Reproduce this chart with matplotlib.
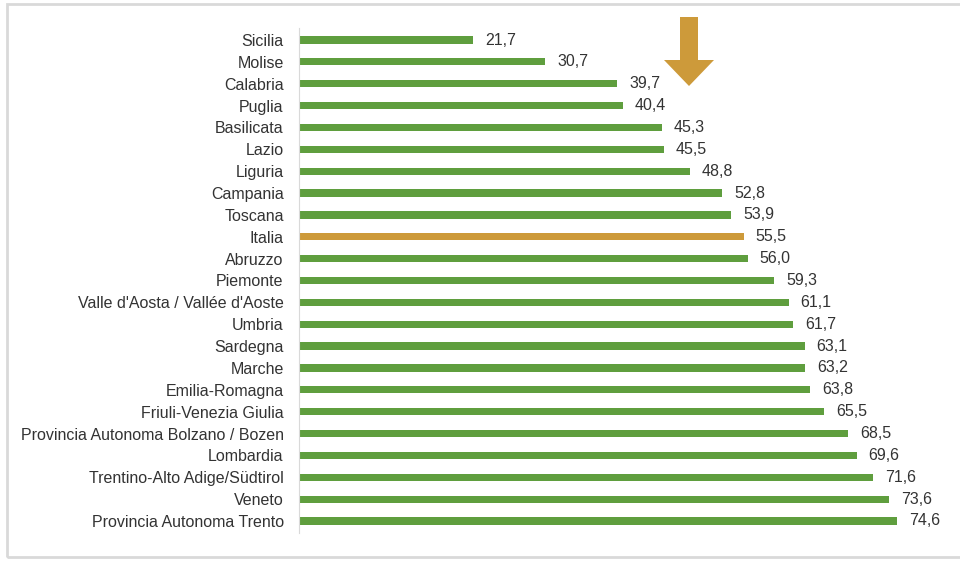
import matplotlib.pyplot as plt
from matplotlib.patches import Polygon, Rectangle

plt.rcParams['font.family'] = ['Liberation Sans', 'DejaVu Sans']

regioni = ["Sicilia", "Molise", "Calabria", "Puglia", "Basilicata", "Lazio", "Liguria",
           "Campania", "Toscana", "Italia", "Abruzzo", "Piemonte",
           "Valle d'Aosta / Vallée d'Aoste", "Umbria", "Sardegna", "Marche",
           "Emilia-Romagna", "Friuli-Venezia Giulia", "Provincia Autonoma Bolzano / Bozen",
           "Lombardia", "Trentino-Alto Adige/Südtirol", "Veneto", "Provincia Autonoma Trento"]
valori = [21.7, 30.7, 39.7, 40.4, 45.3, 45.5, 48.8, 52.8, 53.9, 55.5, 56.0, 59.3,
          61.1, 61.7, 63.1, 63.2, 63.8, 65.5, 68.5, 69.6, 71.6, 73.6, 74.6]

verde = '#5F9E3E'
oro = '#CD9A3A'
colori = [oro if r == "Italia" else verde for r in regioni]

W, H = 960, 562
fig = plt.figure(figsize=(W / 100, H / 100), dpi=100)
ax = fig.add_axes([299 / W, 1 - 533 / H, (940 - 299) / W, (533 - 28) / H])

y = range(len(regioni))
ax.barh(y, valori, height=0.33, color=colori)
ax.set_xlim(0, 80)
ax.set_ylim(len(regioni) - 0.45, -0.55)
ax.set_yticks(list(y))
ax.set_yticklabels(regioni, fontsize=11.5, color='#333333')
ax.tick_params(axis='y', length=0, pad=11)
ax.set_xticks([])
for s in ['top', 'right', 'bottom']:
    ax.spines[s].set_visible(False)
ax.spines['left'].set_color('#D9D9D9')

for i, v in enumerate(valori):
    ax.text(v + 1.5, i, f"{v:.1f}".replace('.', ','), va='center', ha='left',
            fontsize=11.5, color='#333333')

# cornice grigia
fig.patches.append(Rectangle((7 / W, 1 - 557 / H), (W + 10 - 7) / W, (557 - 4) / H,
                             transform=fig.transFigure, fill=False,
                             edgecolor='#D9D9D9', linewidth=2))

# freccia
pts = [(680, 17), (698, 17), (698, 60), (714, 60), (689, 86), (664, 60), (680, 60)]
fig.patches.append(Polygon([(px / W, 1 - py / H) for px, py in pts], closed=True,
                           transform=fig.transFigure, facecolor=oro, edgecolor='none'))

plt.savefig('out.png', dpi=100)
